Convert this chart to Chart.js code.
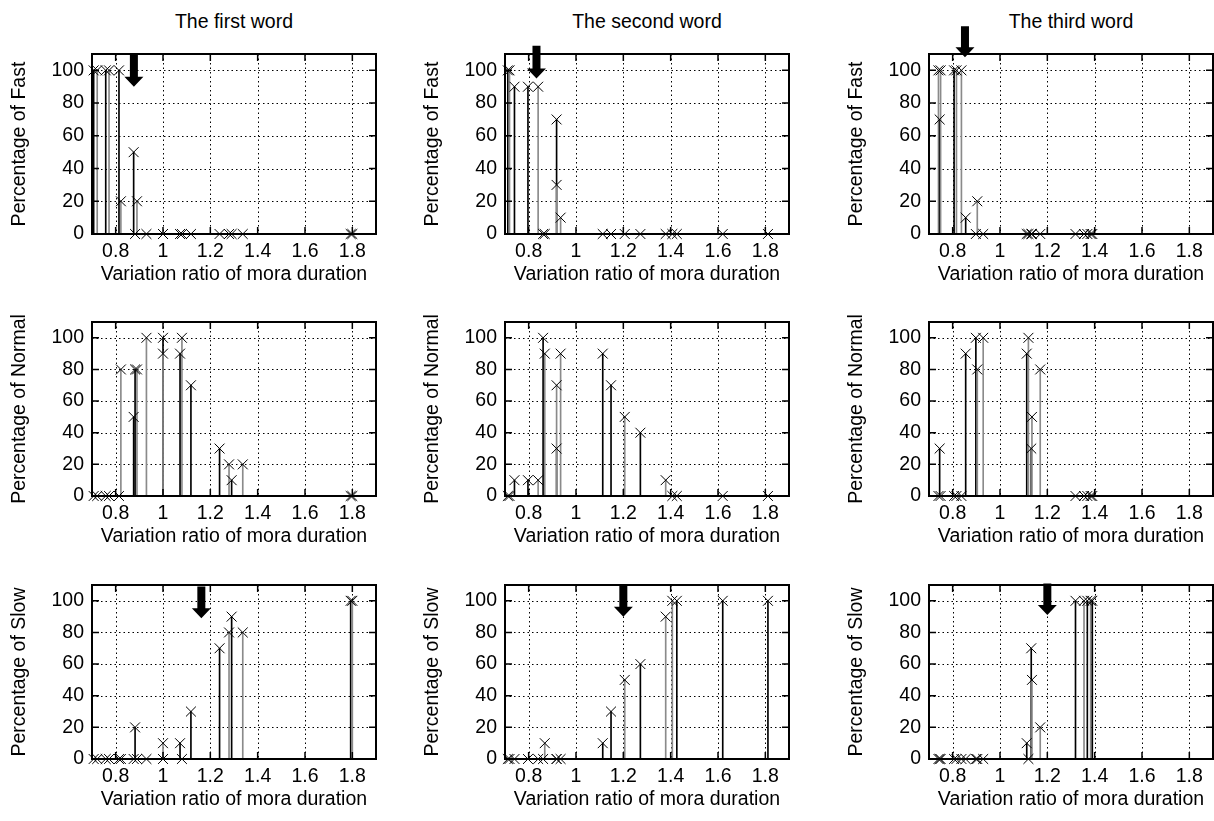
<!DOCTYPE html>
<html>
<head>
<meta charset="utf-8">
<script src="https://cdn.jsdelivr.net/npm/chart.js@4.4.0/dist/chart.umd.min.js"></script>
<style>
  body { margin: 0; background: #fff; width: 1214px; height: 821px; position: relative; overflow: hidden;
         font-family: "Liberation Sans", Arial, sans-serif; }
  canvas { position: absolute; }
  .col-title { position: absolute; top: 10px; width: 300px; margin-left: -150px; text-align: center;
               font-size: 19.5px; line-height: 23px; color: #000; }
</style>
</head>
<body>
<div class="col-title" style="left:234px">The first word</div>
<div class="col-title" style="left:647px">The second word</div>
<div class="col-title" style="left:1071px">The third word</div>

<script>
// tick labels
const xTicks = [0.8, 1, 1.2, 1.4, 1.6, 1.8];
const yTicks = [0, 20, 40, 60, 80, 100];
const rateNames = ['Fast', 'Normal', 'Slow'];

// first word: stimulus ratio, speaker group, % answered fast / normal / slow
const word1X      = [0.707, 0.722, 0.758, 0.772, 0.814, 0.822, 0.876, 0.882, 0.89, 0.93, 1.0, 1.0, 1.072, 1.08, 1.118, 1.239, 1.279, 1.29, 1.337, 1.793, 1.8];
const word1Group  = ['A', 'B', 'A', 'B', 'A', 'B', 'A', 'A', 'B', 'B', 'A', 'B', 'A', 'B', 'A', 'A', 'B', 'A', 'B', 'A', 'B'];
const word1Fast   = [100, 100, 100, 100, 100, 20, 50, 0, 20, 0, 0, 0, 0, 0, 0, 0, 0, 0, 0, 0, 0];
const word1Normal = [0, 0, 0, 0, 0, 80, 50, 80, 80, 100, 100, 90, 90, 100, 70, 30, 20, 10, 20, 0, 0];
const word1Slow   = [0, 0, 0, 0, 0, 0, 0, 20, 0, 0, 0, 10, 10, 0, 30, 70, 80, 90, 80, 100, 100];

// second word
const word2X      = [0.712, 0.719, 0.74, 0.797, 0.84, 0.861, 0.868, 0.918, 0.918, 0.935, 1.113, 1.148, 1.206, 1.272, 1.379, 1.407, 1.426, 1.62, 1.811];
const word2Group  = ['A', 'B', 'A', 'A', 'B', 'A', 'B', 'A', 'B', 'B', 'A', 'A', 'B', 'A', 'B', 'B', 'A', 'A', 'A'];
const word2Fast   = [100, 100, 90, 90, 90, 0, 0, 70, 30, 10, 0, 0, 0, 0, 0, 0, 0, 0, 0];
const word2Normal = [0, 0, 10, 10, 10, 100, 90, 30, 70, 90, 90, 70, 50, 40, 10, 0, 0, 0, 0];
const word2Slow   = [0, 0, 0, 0, 0, 0, 10, 0, 0, 0, 10, 30, 50, 60, 90, 100, 100, 100, 100];

// third word
const word3X      = [0.74, 0.745, 0.749, 0.806, 0.816, 0.837, 0.855, 0.898, 0.904, 0.929, 1.113, 1.12, 1.132, 1.135, 1.17, 1.319, 1.355, 1.369, 1.383, 1.39];
const word3Group  = ['B', 'A', 'B', 'A', 'B', 'B', 'A', 'A', 'B', 'B', 'A', 'B', 'A', 'B', 'B', 'A', 'B', 'A', 'B', 'A'];
const word3Fast   = [100, 70, 100, 100, 100, 100, 10, 0, 20, 0, 0, 0, 0, 0, 0, 0, 0, 0, 0, 0];
const word3Normal = [0, 30, 0, 0, 0, 0, 90, 100, 80, 100, 90, 100, 30, 50, 80, 0, 0, 0, 0, 0];
const word3Slow   = [0, 0, 0, 0, 0, 0, 0, 0, 0, 0, 10, 0, 70, 50, 20, 100, 100, 100, 100, 100];

// boundary arrows (x = ratio, from/to = percentage)
const fastArrowX    = [0.877, 0.833, 0.852];
const fastArrowFrom = [110, 115, 127];
const fastArrowTo   = [90, 95, 108];
const slowArrowX    = [1.162, 1.2, 1.2];
const slowArrowFrom = [109, 110, 111];
const slowArrowTo   = [89, 90, 91];

const words = [
    { x: word1X, group: word1Group, rates: [word1Fast, word1Normal, word1Slow] },
    { x: word2X, group: word2Group, rates: [word2Fast, word2Normal, word2Slow] },
    { x: word3X, group: word3Group, rates: [word3Fast, word3Normal, word3Slow] }
];

// page layout of the 3x3 plot frames
const colLeft = [92, 505, 929];
const plotW = 284;
const rowTop = [54, 322, 585];
const rowH = [180, 174, 174];
const padTop = 30, yAxisW = 88, xAxisH = 56, padRight = 8;

Chart.defaults.font.family = "'Liberation Sans', Arial, sans-serif";
Chart.defaults.font.size = 19.5;
Chart.defaults.color = '#000';

const gnuplotFrame = {
    id: 'gnuplotFrame',
    beforeDatasetsDraw(chart) {
        const { ctx, chartArea: a, scales: { x, y } } = chart;
        ctx.save();
        ctx.strokeStyle = '#000';
        ctx.lineWidth = 1;
        ctx.setLineDash([1.5, 3]);
        ctx.beginPath();
        xTicks.forEach(v => {
            const px = Math.round(x.getPixelForValue(v)) + 0.5;
            ctx.moveTo(px, a.top); ctx.lineTo(px, a.bottom);
        });
        yTicks.forEach(v => {
            if (v === 0) return;
            const py = Math.round(y.getPixelForValue(v)) + 0.5;
            ctx.moveTo(a.left, py); ctx.lineTo(a.right, py);
        });
        ctx.stroke();
        ctx.restore();
    },
    afterDraw(chart, args, opts) {
        const { ctx, chartArea: a, scales: { x, y } } = chart;
        ctx.save();
        ctx.strokeStyle = '#000';
        ctx.lineWidth = 1.5;
        ctx.beginPath();
        xTicks.forEach(v => {
            const px = x.getPixelForValue(v);
            ctx.moveTo(px, a.bottom); ctx.lineTo(px, a.bottom - 7);
            ctx.moveTo(px, a.top); ctx.lineTo(px, a.top + 7);
        });
        yTicks.forEach(v => {
            const py = y.getPixelForValue(v);
            ctx.moveTo(a.left, py); ctx.lineTo(a.left + 7, py);
            ctx.moveTo(a.right, py); ctx.lineTo(a.right - 7, py);
        });
        ctx.stroke();
        ctx.lineWidth = 2;
        ctx.strokeRect(a.left, a.top, a.right - a.left, a.bottom - a.top);

        if (opts.arrow) {
            const px = x.getPixelForValue(opts.arrow.x);
            const y0 = y.getPixelForValue(opts.arrow.from);
            const y1 = y.getPixelForValue(opts.arrow.to);
            ctx.fillStyle = '#000';
            ctx.beginPath();
            ctx.moveTo(px - 4, y0);
            ctx.lineTo(px + 4, y0);
            ctx.lineTo(px + 4, y1 - 10);
            ctx.lineTo(px + 9.5, y1 - 10);
            ctx.lineTo(px, y1);
            ctx.lineTo(px - 9.5, y1 - 10);
            ctx.lineTo(px - 4, y1 - 10);
            ctx.closePath();
            ctx.fill();
        }
        ctx.restore();
    }
};

function makePanel(row, col) {
    const word = words[col];
    const values = word.rates[row];
    const points = word.x.map((v, i) => ({ x: v, y: values[i] }));

    const canvas = document.createElement('canvas');
    canvas.width = yAxisW + plotW + padRight;
    canvas.height = padTop + rowH[row] + xAxisH;
    canvas.style.left = (colLeft[col] - yAxisW) + 'px';
    canvas.style.top = (rowTop[row] - padTop) + 'px';
    document.body.appendChild(canvas);

    let arrow = null;
    if (row === 0) arrow = { x: fastArrowX[col], from: fastArrowFrom[col], to: fastArrowTo[col] };
    if (row === 2) arrow = { x: slowArrowX[col], from: slowArrowFrom[col], to: slowArrowTo[col] };

    new Chart(canvas, {
        type: 'scatter',
        data: {
            datasets: [{
                type: 'scatter',
                data: points,
                pointStyle: 'crossRot',
                pointRadius: 7,
                pointBorderWidth: 1,
                borderColor: '#000',
                backgroundColor: '#000',
                clip: false,
                order: 0
            }, {
                type: 'bar',
                data: points,
                barThickness: 1,
                backgroundColor: c => word.group[c.dataIndex] === 'A' ? '#000' : '#8a8a8a',
                order: 1
            }]
        },
        plugins: [gnuplotFrame],
        options: {
            responsive: false,
            animation: false,
            events: [],
            layout: { padding: { top: padTop, right: padRight, left: 0, bottom: 0 } },
            plugins: {
                legend: { display: false },
                tooltip: { enabled: false },
                gnuplotFrame: { arrow: arrow }
            },
            scales: {
                x: {
                    type: 'linear',
                    min: 0.7,
                    max: 1.9,
                    offset: false,
                    grid: { display: false, drawTicks: false },
                    border: { display: false },
                    afterBuildTicks: s => { s.ticks = xTicks.map(v => ({ value: v })); },
                    afterFit: s => { s.height = xAxisH; },
                    ticks: {
                        padding: 6,
                        maxRotation: 0,
                        autoSkip: false,
                        callback: v => String(Math.round(v * 10) / 10)
                    },
                    title: {
                        display: true,
                        text: 'Variation ratio of mora duration',
                        padding: { top: 4, bottom: 4 }
                    }
                },
                y: {
                    type: 'linear',
                    min: 0,
                    max: 110,
                    grid: { display: false, drawTicks: false },
                    border: { display: false },
                    afterBuildTicks: s => { s.ticks = yTicks.map(v => ({ value: v })); },
                    afterFit: s => { s.width = yAxisW; },
                    ticks: {
                        padding: 8,
                        callback: v => String(v)
                    },
                    title: {
                        display: true,
                        text: 'Percentage of ' + rateNames[row],
                        padding: { top: 4, bottom: 4 }
                    }
                }
            }
        }
    });
}

window.addEventListener('load', () => {
    for (let r = 0; r < 3; r++) {
        for (let c = 0; c < 3; c++) {
            makePanel(r, c);
        }
    }
});
</script>
</body>
</html>
